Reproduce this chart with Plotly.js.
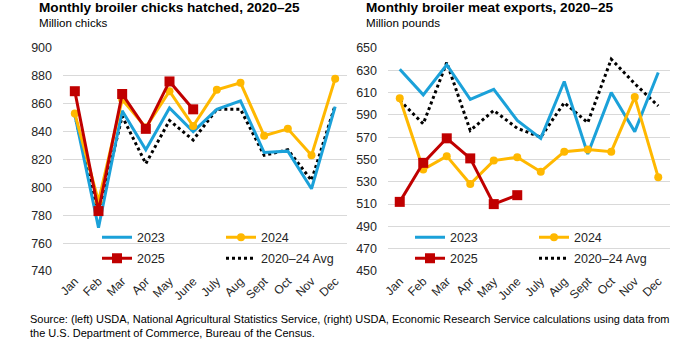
<!DOCTYPE html>
<html>
<head>
<meta charset="utf-8">
<script src="https://cdn.plot.ly/plotly-3.0.1.min.js"></script>
<style>html,body{margin:0;padding:0;background:#fff;}#chart{width:696px;height:353px;}</style>
</head>
<body>
<div id="chart"></div>
<script>
const months = ["Jan","Feb","Mar","Apr","May","June","July","Aug","Sept","Oct","Nov","Dec"];
const months2025 = ["Jan","Feb","Mar","Apr","May","June"];

// Left: broiler chicks hatched (million chicks)
const chicks2023 = [852, 771, 855, 827, 857, 840, 856, 862, 825, 826, 799, 858];
const chicks2024 = [853, 790, 863, 843, 869, 844, 870, 875, 837, 842, 823, 878];
const chicks2025 = [869, 783, 867, 842, 876, 856];
const chicksAvg  = [852, 780, 851, 817, 848, 834, 856, 856, 823, 827, 805, 859];

// Right: broiler meat exports (million pounds)
const exports2023 = [631, 608, 635, 604, 613, 585, 569, 620, 555, 610, 575, 628];
const exports2024 = [605, 541, 553, 528, 549, 552, 539, 557, 559, 557, 606, 534];
const exports2025 = [512, 547, 569, 551, 510, 518];
const exportsAvg  = [603, 582, 637, 576, 594, 578, 570, 601, 583, 640, 618, 598];

const leftTicks = [740, 760, 780, 800, 820, 840, 860, 880, 900];
const rightTicks = [450, 470, 490, 510, 530, 550, 570, 590, 610, 630, 650];

const BLUE = "#1ba1d9", GOLD = "#ffb800", RED = "#c00000", BLACK = "#000000";
const FONT = "Liberation Sans, Arial, sans-serif";

function series(x, y, name, color, xa, ya, legend, rank, marker, dash) {
  const t = {x: x, y: y, name: name, type: "scatter", xaxis: xa, yaxis: ya, legend: legend, legendrank: rank,
    mode: marker ? "lines+markers" : "lines",
    line: {color: color, width: 3, dash: dash || "solid"}, cliponaxis: false};
  if (marker) t.marker = {color: color, size: marker.size, symbol: marker.symbol};
  return t;
}

const data = [
  series(months, chicks2023, "2023", BLUE, "x", "y", "legend", 1),
  series(months, chicks2024, "2024", GOLD, "x", "y", "legend", 2, {size: 8, symbol: "circle"}),
  series(months2025, chicks2025, "2025", RED, "x", "y", "legend2", 1, {size: 10, symbol: "square"}),
  series(months, chicksAvg, "2020–24 Avg", BLACK, "x", "y", "legend2", 2, null, "dot"),
  series(months, exports2023, "2023", BLUE, "x2", "y2", "legend3", 1),
  series(months, exports2024, "2024", GOLD, "x2", "y2", "legend3", 2, {size: 8, symbol: "circle"}),
  series(months2025, exports2025, "2025", RED, "x2", "y2", "legend4", 1, {size: 10, symbol: "square"}),
  series(months, exportsAvg, "2020–24 Avg", BLACK, "x2", "y2", "legend4", 2, null, "dot")
];
// draw order: avg below others
const ordered = [data[3], data[0], data[1], data[2], data[7], data[4], data[5], data[6]];

const W = 696, H = 353, T = 48, B = 82;
const plotH = H - T - B;
const py = p => (H - B - p) / plotH;
const px = p => p / W;

const xCommon = {type: "category", categoryorder: "array", categoryarray: months, range: [-0.5, 11.5],
  tickangle: -45, showgrid: false, zeroline: false, showline: false, ticks: "",
  tickfont: {family: FONT, size: 12, color: "#262626"}, fixedrange: true};
const yCommon = {showgrid: true, gridcolor: "#d9d9d9", gridwidth: 1, zeroline: false, showline: false,
  ticks: "", tickfont: {family: FONT, size: 12.5, color: "#262626"}, ticklabelstandoff: 10, fixedrange: true};

function legendAt(xp, yp) {
  return {x: px(xp), y: py(yp), xanchor: "left", yanchor: "middle", orientation: "h",
    bgcolor: "rgba(0,0,0,0)", borderwidth: 0, entrywidth: 79, traceorder: "normal",
    font: {family: FONT, size: 12.5, color: "#262626"}, itemclick: false, itemdoubleclick: false};
}

const layout = {
  width: W, height: H,
  margin: {l: 0, r: 0, t: T, b: B, pad: 0},
  paper_bgcolor: "#ffffff", plot_bgcolor: "rgba(0,0,0,0)",
  showlegend: true,
  xaxis: Object.assign({}, xCommon, {domain: [px(63), px(347)], anchor: "y"}),
  yaxis: Object.assign({}, yCommon, {range: [740, 900], tickvals: leftTicks, anchor: "x"}),
  xaxis2: Object.assign({}, xCommon, {domain: [px(388), px(670)], anchor: "y2"}),
  yaxis2: Object.assign({}, yCommon, {range: [450, 650], tickvals: rightTicks, anchor: "x2"}),
  legend: legendAt(97, 237.5),
  legend2: legendAt(97, 258.5),
  legend3: legendAt(410, 237.5),
  legend4: legendAt(410, 258.5),
  annotations: [
    {text: "<b>Monthly broiler chicks hatched, 2020–25</b>", x: px(37), y: py(8), xref: "paper", yref: "paper",
      xanchor: "left", yanchor: "middle", showarrow: false, font: {family: FONT, size: 13.6, color: "#000"}},
    {text: "Million chicks", x: px(37), y: py(23), xref: "paper", yref: "paper",
      xanchor: "left", yanchor: "middle", showarrow: false, font: {family: FONT, size: 11.6, color: "#000"}},
    {text: "<b>Monthly broiler meat exports, 2020–25</b>", x: px(364), y: py(8), xref: "paper", yref: "paper",
      xanchor: "left", yanchor: "middle", showarrow: false, font: {family: FONT, size: 13.6, color: "#000"}},
    {text: "Million pounds", x: px(364), y: py(23), xref: "paper", yref: "paper",
      xanchor: "left", yanchor: "middle", showarrow: false, font: {family: FONT, size: 11.6, color: "#000"}},
    {text: "Source: (left) USDA, National Agricultural Statistics Service, (right) USDA, Economic Research Service calculations using data from<br>the U.S. Department of Commerce, Bureau of the Census.",
      x: px(28), y: py(326), xref: "paper", yref: "paper", xanchor: "left", yanchor: "middle", align: "left",
      showarrow: false, font: {family: "Liberation Sans Narrow, Arial Narrow, " + FONT, size: 11, color: "#000"}}
  ]
};

Plotly.newPlot("chart", ordered, layout, {displayModeBar: false, staticPlot: true});
</script>
</body>
</html>
